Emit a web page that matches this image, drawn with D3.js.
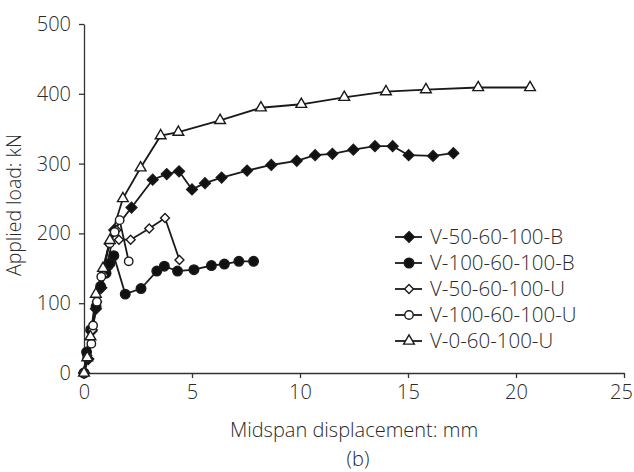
<!DOCTYPE html>
<html>
<head>
<meta charset="utf-8">
<script src="https://cdn.jsdelivr.net/npm/d3@7"></script>
<style>
	body { margin: 0; background: #fff; }
	text { font-family: 'Open Sans', sans-serif; font-weight: 300; fill: #2a2a2a; }
</style>
</head>
<body>
<svg id="chart" width="634" height="472"></svg>
<script>
/* global d3 */

// midspan displacement (mm), applied load (kN)
const v50B = [[0, 0], [0.2, 20], [0.35, 60], [0.55, 92], [0.8, 122], [1.05, 150], [1.4, 205], [2.2, 237], [3.18, 277], [3.83, 285], [4.4, 289], [5.0, 263], [5.6, 272], [6.37, 280], [7.55, 290], [8.67, 298], [9.85, 304], [10.7, 312], [11.5, 314], [12.47, 320], [13.47, 325], [14.29, 325], [15.03, 312], [16.16, 311], [17.1, 315]];
const v100B = [[0, 0], [0.12, 30], [0.31, 62], [0.56, 95], [0.77, 124], [1.02, 143], [1.2, 157], [1.38, 168], [1.91, 113], [2.64, 121], [3.37, 146], [3.72, 153], [4.33, 146], [5.09, 148], [5.9, 154], [6.5, 156], [7.17, 160], [7.85, 160]];
const v50U = [[0, 0], [0.15, 25], [0.4, 62], [0.6, 102], [0.9, 140], [1.15, 185], [1.5, 205], [1.62, 191], [2.16, 191], [3.02, 207], [3.75, 222], [4.42, 162]];
const v100U = [[0, 0], [0.15, 22], [0.34, 42], [0.42, 68], [0.6, 102], [0.8, 138], [1.19, 186], [1.42, 202], [1.65, 219], [2.07, 160]];
const v0U = [[0, 0], [0.15, 22], [0.3, 52], [0.55, 113], [0.88, 150], [1.2, 190], [1.8, 250], [2.62, 294], [3.55, 340], [4.37, 345], [6.3, 362], [8.19, 380], [10.06, 385], [12.05, 395], [13.98, 403], [15.83, 406], [18.25, 409], [20.65, 409]];

const seriesNames = ['V-50-60-100-B', 'V-100-60-100-B', 'V-50-60-100-U', 'V-100-60-100-U', 'V-0-60-100-U'];
const xTicks = [0, 5, 10, 15, 20, 25];
const yTicks = [0, 100, 200, 300, 400, 500];

// diamond that is as wide as it is tall
const squareDiamond = {
	draw(context, size) {
		const r = Math.sqrt(size / 2);
		context.moveTo(0, -r);
		context.lineTo(r, 0);
		context.lineTo(0, r);
		context.lineTo(-r, 0);
		context.closePath();
	},
};

const styles = [
	{data: v50B, type: squareDiamond, size: 58, fill: '#111'},
	{data: v100B, type: d3.symbolCircle, size: 72, fill: '#111'},
	{data: v50U, type: squareDiamond, size: 40, fill: '#fff'},
	{data: v100U, type: d3.symbolCircle, size: 56, fill: '#fff'},
	{data: v0U, type: d3.symbolTriangle, size: 50, fill: '#fff'},
];

const fontSize = '20px';

const svg = d3.select('#chart');
const margins = {left: 84, right: 10, top: 24, bottom: 99};
const width = 634 - margins.left - margins.right;
const height = 472 - margins.top - margins.bottom;

const x = d3.scaleLinear().domain([0, 25]).range([0, width]);
const y = d3.scaleLinear().domain([0, 500]).range([height, 0]);

const g = svg.append('g')
	.attr('transform', `translate(${margins.left},${margins.top})`);

const xAxis = g.append('g')
	.attr('transform', `translate(0,${height})`)
	.call(d3.axisBottom(x).tickValues(xTicks).tickSize(5).tickSizeOuter(0).tickPadding(7));

const yAxis = g.append('g')
	.call(d3.axisLeft(y).tickValues(yTicks).tickSize(5).tickSizeOuter(0).tickPadding(8));

[xAxis, yAxis].forEach(ax => {
	ax.select('.domain').attr('stroke', '#333').attr('stroke-width', 1.3);
	ax.selectAll('.tick line').attr('stroke', '#333').attr('stroke-width', 1.3);
	ax.selectAll('.tick text')
		.style('font-family', '\'Open Sans\', sans-serif')
		.style('font-weight', 300)
		.style('font-size', fontSize)
		.attr('fill', '#2a2a2a');
});

// keep the last x label inside the picture
xAxis.selectAll('.tick text')
	.filter(d => d === 25)
	.attr('dx', -3);

const line = d3.line()
	.x(d => x(d[0]))
	.y(d => y(d[1]));

styles.forEach(s => {
	g.append('path')
		.datum(s.data)
		.attr('fill', 'none')
		.attr('stroke', '#1a1a1a')
		.attr('stroke-width', 1.8)
		.attr('d', line);
});

styles.forEach(s => {
	g.selectAll(null)
		.data(s.data)
		.enter().append('path')
		.attr('transform', d => `translate(${x(d[0])},${y(d[1])})`)
		.attr('d', d3.symbol().type(s.type).size(s.size))
		.attr('fill', s.fill)
		.attr('stroke', '#1a1a1a')
		.attr('stroke-width', 1.4);
});

// legend
const legend = svg.append('g')
	.attr('transform', 'translate(395,237)');

const legendRow = legend.selectAll('g')
	.data(styles)
	.enter().append('g')
	.attr('transform', (d, i) => `translate(0,${i * 26})`);

legendRow.append('line')
	.attr('x1', 0)
	.attr('x2', 27)
	.attr('stroke', '#1a1a1a')
	.attr('stroke-width', 1.8);

legendRow.append('path')
	.attr('transform', 'translate(14,0)')
	.attr('d', d => d3.symbol().type(d.type).size(d.size)())
	.attr('fill', d => d.fill)
	.attr('stroke', '#1a1a1a')
	.attr('stroke-width', 1.4);

legendRow.append('text')
	.attr('x', 35)
	.attr('dy', '0.36em')
	.style('font-size', '20.5px')
	.text((d, i) => seriesNames[i]);

svg.append('text')
	.attr('x', margins.left + width / 2)
	.attr('y', 437)
	.attr('text-anchor', 'middle')
	.style('font-size', fontSize)
	.text('Midspan displacement: mm');

svg.append('text')
	.attr('x', 358)
	.attr('y', 466)
	.attr('text-anchor', 'middle')
	.style('font-size', fontSize)
	.text('(b)');

svg.append('text')
	.attr('transform', 'translate(21,205) rotate(-90)')
	.attr('text-anchor', 'middle')
	.style('font-size', '19.5px')
	.text('Applied load: kN');
</script>
</body>
</html>
